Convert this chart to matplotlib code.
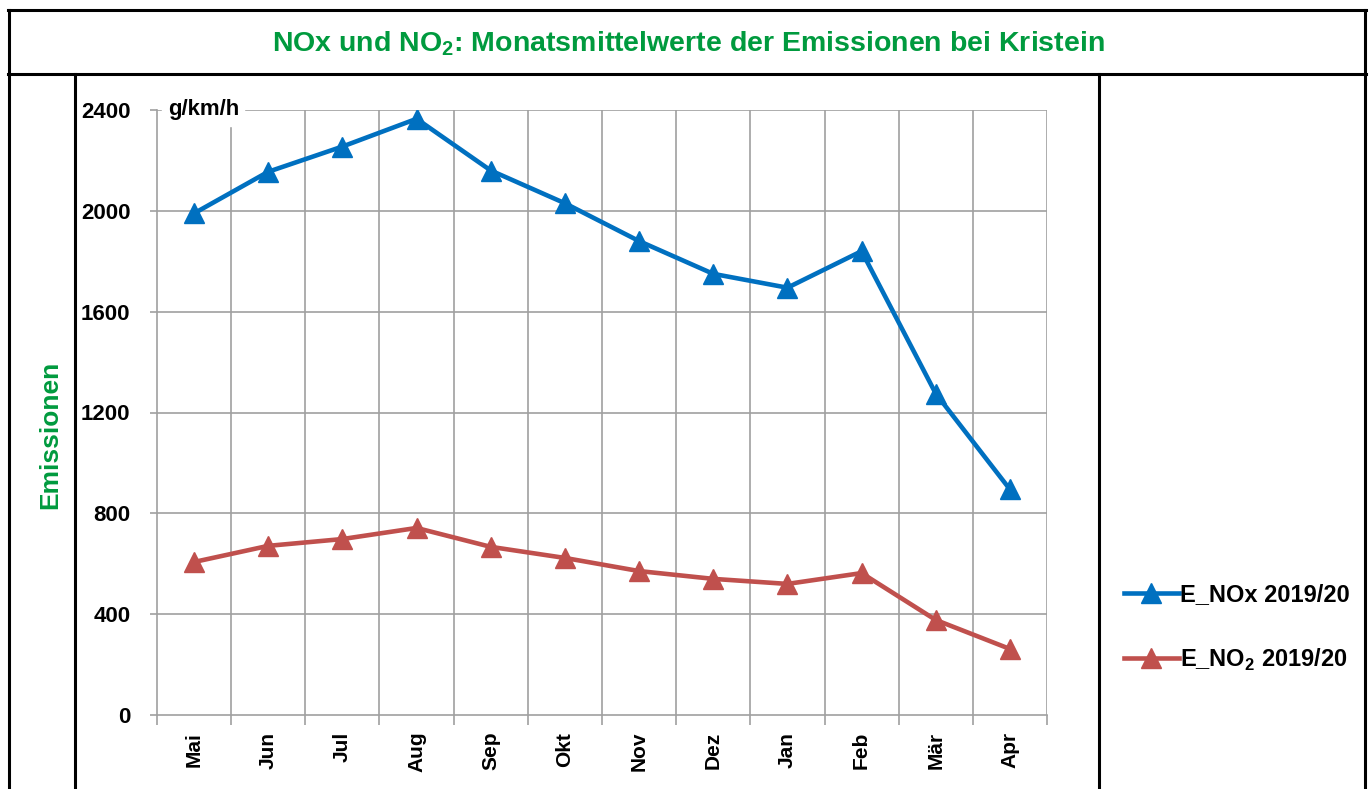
import numpy as np
import matplotlib.pyplot as plt
from matplotlib.lines import Line2D

plt.rcParams['font.family'] = ['Liberation Sans', 'DejaVu Sans']
plt.rcParams['mathtext.fontset'] = 'custom'
plt.rcParams['mathtext.rm'] = 'Liberation Sans'
plt.rcParams['mathtext.bf'] = 'Liberation Sans:bold'

months = ['Mai', 'Jun', 'Jul', 'Aug', 'Sep', 'Okt', 'Nov', 'Dez', 'Jan', 'Feb', 'Mär', 'Apr']
nox = [1990, 2155, 2255, 2365, 2160, 2030, 1880, 1750, 1695, 1840, 1275, 895]
no2 = [607, 671, 698, 742, 667, 623, 571, 540, 520, 563, 377, 262]
yticks = [0, 400, 800, 1200, 1600, 2000, 2400]

W, H = 1370, 789
fig = plt.figure(figsize=(W / 100, H / 100), dpi=100)

# table frame
def hline(y, x0, x1):
    fig.add_artist(Line2D([x0 / W, x1 / W], [1 - y / H, 1 - y / H], color='black', lw=2.2))

def vline(x, y0, y1):
    fig.add_artist(Line2D([x / W, x / W], [1 - y0 / H, 1 - y1 / H], color='black', lw=2.2))

hline(10, 8, 1366)
hline(74, 8, 1366)
vline(9, 10, 789)
vline(1365, 10, 789)
vline(75, 74, 789)
vline(1099, 74, 789)

green = '#009A3E'
fig.text(688 / W, 1 - 44 / H, 'NOx und NO$_\\mathbf{2}$: Monatsmittelwerte der Emissionen bei Kristein',
         ha='center', va='center', color=green, fontsize=20.5, fontweight='bold')
fig.text(50 / W, 1 - 435 / H, 'Emissionen', rotation=90, ha='center', va='center',
         color=green, fontsize=19, fontweight='bold')

ax = fig.add_axes([157 / W, 1 - 715 / H, (1047 - 157) / W, (715 - 110) / H])
x = np.arange(len(months))
blue = '#0070C0'
red = '#C0504D'
l1, = ax.plot(x, nox, color=blue, lw=3.3, marker='^', ms=15, label='E_NOx 2019/20')
l2, = ax.plot(x, no2, color=red, lw=3.3, marker='^', ms=15, label='E_NO$_\\mathbf{2}$ 2019/20')

ax.set_xlim(-0.5, 11.5)
ax.set_ylim(0, 2400)
ax.set_yticks(yticks)
ax.set_yticklabels([str(v) for v in yticks], fontsize=16, fontweight='bold')
ax.set_xticks(x)
ax.set_xticklabels(months, rotation=90, fontsize=15, fontweight='bold')
ax.tick_params(axis='x', length=0, pad=12)
ax.set_xticks(np.arange(-0.5, 12, 1), minor=True)
ax.tick_params(axis='x', which='minor', length=7, color='#a0a0a0', width=1.2)
ax.tick_params(axis='y', length=5, color='#a0a0a0', width=1.2, pad=14)
ax.grid(False)
for v in yticks[1:]:
    ax.axhline(v, color='#a0a0a0', lw=1.2, zorder=0)
for b in np.arange(0.5, 12, 1):
    ax.axvline(b, color='#a0a0a0', lw=1.2, zorder=0)
for s in ['top', 'right']:
    ax.spines[s].set_visible(False)
for s in ['left', 'bottom']:
    ax.spines[s].set_color('#a0a0a0')
    ax.spines[s].set_linewidth(1.2)

ax.text(0.012, 2400, 'g/km/h', transform=ax.get_yaxis_transform(), ha='left', va='center',
        fontsize=16, fontweight='bold', backgroundcolor='white', zorder=3)

fig.legend(handles=[l1, l2], loc='center left', bbox_to_anchor=(1103 / W, 1 - 628 / H),
           frameon=False, prop={'size': 17, 'weight': 'bold'}, handlelength=2.3,
           handletextpad=0.05, labelspacing=1.7, markerscale=1.0)

fig.savefig('out.png', dpi=100)
